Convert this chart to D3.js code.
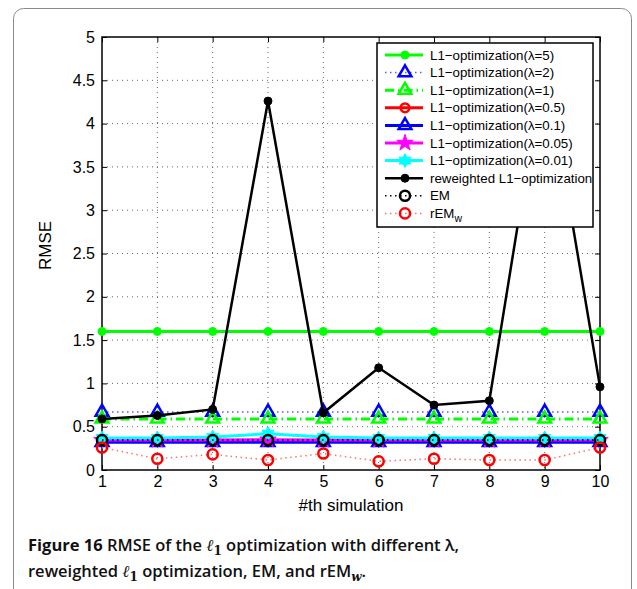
<!DOCTYPE html>
<html>
<head>
<meta charset="utf-8">
<script src="https://cdn.jsdelivr.net/npm/d3@7"></script>
<style>
  body { margin: 0; background: #fff; }
  svg { display: block; }
  .tick text { font-family: "Liberation Sans", Arial, sans-serif; font-size: 16px; fill: #000; }
</style>
</head>
<body>
<svg id="chart" width="637" height="589"></svg>
<script>
'use strict'

// values
const sims = [1, 2, 3, 4, 5, 6, 7, 8, 9, 10]
const lambda5 = [1.6, 1.6, 1.6, 1.6, 1.6, 1.6, 1.6, 1.6, 1.6, 1.6]
const lambda2 = [0.67, 0.67, 0.67, 0.67, 0.67, 0.67, 0.67, 0.67, 0.67, 0.67]
const lambda1 = [0.59, 0.59, 0.59, 0.59, 0.59, 0.59, 0.59, 0.59, 0.59, 0.59]
const lambda05 = [0.33, 0.33, 0.33, 0.33, 0.33, 0.33, 0.33, 0.33, 0.33, 0.33]
const lambda01 = [0.32, 0.32, 0.32, 0.32, 0.32, 0.32, 0.32, 0.32, 0.32, 0.32]
const lambda005 = [0.345, 0.345, 0.345, 0.35, 0.345, 0.345, 0.345, 0.345, 0.345, 0.345]
const lambda001 = [0.37, 0.37, 0.38, 0.42, 0.38, 0.37, 0.37, 0.37, 0.37, 0.37]
const reweighted = [0.59, 0.63, 0.70, 4.26, 0.66, 1.18, 0.75, 0.80, 4.75, 0.96]
const em = [0.345, 0.345, 0.345, 0.345, 0.345, 0.345, 0.345, 0.345, 0.345, 0.345]
const remw = [0.26, 0.13, 0.18, 0.115, 0.19, 0.10, 0.13, 0.115, 0.115, 0.26]
const yTicks = [0, 0.5, 1, 1.5, 2, 2.5, 3, 3.5, 4, 4.5, 5]

// hexagram symbol (matlab 'h')
const symbolHexagram = {
	draw (ctx, size) {
		const r = Math.sqrt(size / 1.8), ri = r * 0.58
		for (let i = 0; i < 12; i++) {
			const a = -Math.PI / 2 + i * Math.PI / 6
			const rr = i % 2 ? ri : r
			if (i === 0) ctx.moveTo(rr * Math.cos(a), rr * Math.sin(a))
			else ctx.lineTo(rr * Math.cos(a), rr * Math.sin(a))
		}
		ctx.closePath()
	}
}

// drawing order = plot order in the original
const series = [
	{ name: 'L1\u2212optimization(\u03bb=5)', values: lambda5, color: '#00ff00', width: 3, dash: null, symbol: d3.symbolCircle, size: 50, fill: true },
	{ name: 'L1\u2212optimization(\u03bb=2)', values: lambda2, color: '#0000ff', width: 1.5, dash: '1.5,3.5', symbol: d3.symbolTriangle, size: 70, fill: false, lineColor: '#5a5aff' },
	{ name: 'L1\u2212optimization(\u03bb=1)', values: lambda1, color: '#00ff00', width: 3, dash: '9,4,1.5,4', symbol: d3.symbolTriangle, size: 70, fill: false },
	{ name: 'L1\u2212optimization(\u03bb=0.5)', values: lambda05, color: '#ff0000', width: 3, dash: null, symbol: d3.symbolCircle, size: 60, fill: false },
	{ name: 'L1\u2212optimization(\u03bb=0.1)', values: lambda01, color: '#0000ff', width: 3, dash: null, symbol: d3.symbolTriangle, size: 70, fill: false },
	{ name: 'L1\u2212optimization(\u03bb=0.05)', values: lambda005, color: '#ff00ff', width: 3, dash: null, symbol: d3.symbolStar, size: 85, fill: true },
	{ name: 'L1\u2212optimization(\u03bb=0.01)', values: lambda001, color: '#00ffff', width: 3, dash: null, symbol: symbolHexagram, size: 85, fill: true },
	{ name: 'reweighted L1\u2212optimization', values: reweighted, color: '#000000', width: 2.5, dash: null, symbol: d3.symbolCircle, size: 50, fill: true },
	{ name: 'EM', values: em, color: '#000000', width: 1.5, dash: '1.5,3.5', symbol: d3.symbolCircle, size: 80, fill: false },
	{ name: 'rEM', sub: 'w', values: remw, color: '#ff0000', width: 1.5, dash: '1.5,3.5', symbol: d3.symbolCircle, size: 80, fill: false, lineColor: '#ff7070' }
]

const margins = { top: 37, right: 37, bottom: 119, left: 102 }
const width = 637, height = 589
const chartWidth = width - margins.left - margins.right
const chartHeight = height - margins.top - margins.bottom

const svg = d3.select('#chart')

// outer figure frame
svg.append('rect')
	.attr('x', 13.5).attr('y', 8.5)
	.attr('width', 618).attr('height', 640)
	.attr('rx', 10)
	.attr('fill', 'none').attr('stroke', '#8a8a8a').attr('stroke-width', 1)

const g = svg.append('g').attr('transform', `translate(${margins.left},${margins.top})`)

const x = d3.scaleLinear().domain([1, 10]).range([0, chartWidth])
const y = d3.scaleLinear().domain([0, 5]).range([chartHeight, 0])

// dotted grid
g.append('g').selectAll('line').data(sims.slice(1, -1)).join('line')
	.attr('x1', d => x(d)).attr('x2', d => x(d))
	.attr('y1', 0).attr('y2', chartHeight)
	.attr('stroke', '#666').attr('stroke-width', 1).attr('stroke-dasharray', '1,4')
g.append('g').selectAll('line').data(yTicks.slice(1, -1)).join('line')
	.attr('y1', d => y(d)).attr('y2', d => y(d))
	.attr('x1', 0).attr('x2', chartWidth)
	.attr('stroke', '#666').attr('stroke-width', 1).attr('stroke-dasharray', '1,4')

// axes with inward ticks (box on)
g.append('g').attr('transform', `translate(0,${chartHeight})`)
	.call(d3.axisBottom(x).tickValues(sims).tickFormat(d3.format('d')).tickSizeInner(-5).tickSizeOuter(0).tickPadding(6))
g.append('g')
	.call(d3.axisLeft(y).tickValues(yTicks).tickFormat(d => d).tickSizeInner(-5).tickSizeOuter(0).tickPadding(7))
g.append('g').call(d3.axisTop(x).tickValues(sims).tickFormat('').tickSizeInner(-5).tickSizeOuter(0))
g.append('g').attr('transform', `translate(${chartWidth},0)`)
	.call(d3.axisRight(y).tickValues(yTicks).tickFormat('').tickSizeInner(-5).tickSizeOuter(0))
g.selectAll('.domain').remove()
g.selectAll('.tick line').attr('stroke', '#000').attr('stroke-width', 1)

g.append('rect')
	.attr('width', chartWidth).attr('height', chartHeight)
	.attr('fill', 'none').attr('stroke', '#000').attr('stroke-width', 1.5)

// series
const line = d3.line().x((d, i) => x(sims[i])).y(d => y(d))
series.forEach(s => {
	const sg = g.append('g')
	sg.append('path')
		.attr('d', line(s.values))
		.attr('fill', 'none')
		.attr('stroke', s.lineColor || s.color)
		.attr('stroke-width', s.width)
		.attr('stroke-dasharray', s.dash)
	sg.selectAll('path.m').data(s.values).join('path')
		.attr('class', 'm')
		.attr('transform', (d, i) => `translate(${x(sims[i])},${y(d)})`)
		.attr('d', d3.symbol(s.symbol, s.size))
		.attr('fill', s.fill ? s.color : 'none')
		.attr('stroke', s.color)
		.attr('stroke-width', s.fill ? 1 : 2.5)
})

// legend
const legend = svg.append('g').attr('transform', 'translate(377,43)')
legend.append('rect')
	.attr('width', 216).attr('height', 184)
	.attr('fill', '#fff').attr('stroke', '#000').attr('stroke-width', 1.5)
const rowH = 17.6
series.forEach((s, i) => {
	const row = legend.append('g').attr('transform', `translate(0,${12 + i * rowH})`)
	row.append('line')
		.attr('x1', 8).attr('x2', 46)
		.attr('stroke', s.lineColor || s.color)
		.attr('stroke-width', s.width)
		.attr('stroke-dasharray', s.dash)
	row.append('path')
		.attr('transform', 'translate(28,0)')
		.attr('d', d3.symbol(s.symbol, s.size))
		.attr('fill', s.fill ? s.color : 'none')
		.attr('stroke', s.color)
		.attr('stroke-width', s.fill ? 1 : 2.5)
	const t = row.append('text')
		.attr('x', 53).attr('dy', '0.35em')
		.style('font-family', '"Liberation Sans", Arial, sans-serif')
		.style('font-size', '13.3px')
		.text(s.name)
	if (s.sub) t.append('tspan').attr('dy', 4).style('font-size', '10.5px').text(s.sub)
})

// axis labels
svg.append('text')
	.attr('x', margins.left + chartWidth / 2).attr('y', 511)
	.attr('text-anchor', 'middle')
	.style('font-family', '"Liberation Sans", Arial, sans-serif').style('font-size', '17px')
	.text('#th simulation')
svg.append('text')
	.attr('transform', `translate(51,${margins.top + chartHeight / 2 - 8}) rotate(-90)`)
	.attr('text-anchor', 'middle')
	.style('font-family', '"Liberation Sans", Arial, sans-serif').style('font-size', '17px')
	.text('RMSE')

// caption
const cap = svg.append('g')
	.style('font-family', '"Open Sans", "Noto Sans", sans-serif').style('font-size', '16.5px').style('fill', '#111')
const l1 = cap.append('text').attr('x', 28).attr('y', 551)
l1.append('tspan').style('font-weight', 700).text('Figure 16')
l1.append('tspan').style('font-weight', 600).text(' RMSE of the ')
l1.append('tspan').style('font-family', '"DejaVu Serif", serif').style('font-style', 'italic').style('font-weight', 700).text('\u2113')
l1.append('tspan').attr('dy', 4).style('font-family', '"DejaVu Serif", serif').style('font-size', '12px').style('font-weight', 700).text('1')
l1.append('tspan').attr('dy', -4).style('font-weight', 600).text(' optimization with different \u03bb,')
const l2 = cap.append('text').attr('x', 28).attr('y', 577)
l2.append('tspan').style('font-weight', 600).text('reweighted ')
l2.append('tspan').style('font-family', '"DejaVu Serif", serif').style('font-style', 'italic').style('font-weight', 700).text('\u2113')
l2.append('tspan').attr('dy', 4).style('font-family', '"DejaVu Serif", serif').style('font-size', '12px').style('font-weight', 700).text('1')
l2.append('tspan').attr('dy', -4).style('font-weight', 600).text(' optimization, EM, and rEM')
l2.append('tspan').attr('dy', 4).style('font-family', '"DejaVu Serif", serif').style('font-style', 'italic').style('font-size', '12px').style('font-weight', 700).text('w')
l2.append('tspan').attr('dy', -4).style('font-weight', 600).text('.')
</script>
</body>
</html>
